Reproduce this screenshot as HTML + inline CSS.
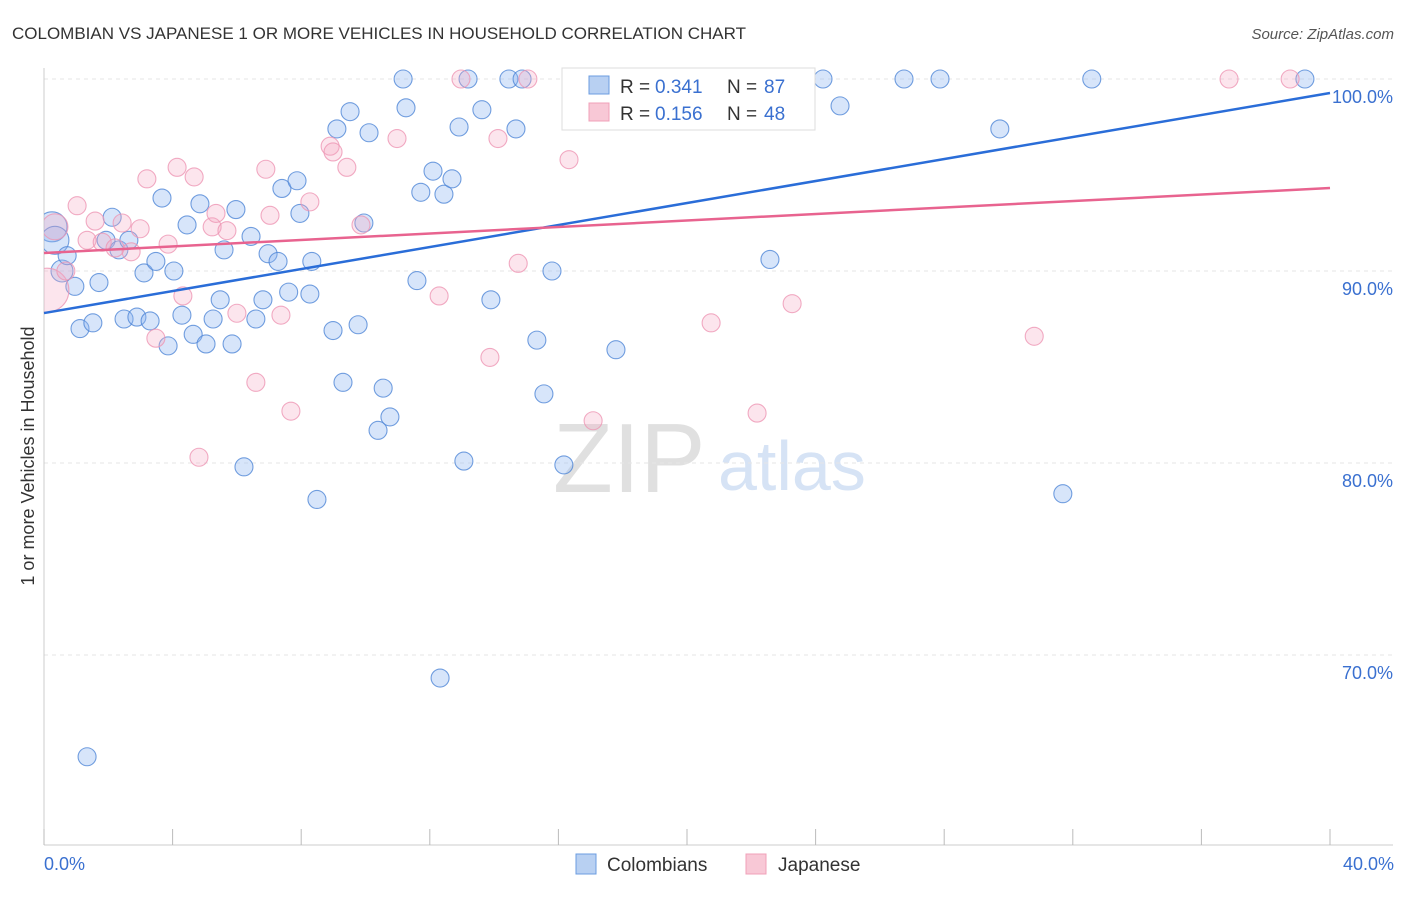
<!DOCTYPE html>
<html><head><meta charset="utf-8"><style>
body{margin:0;background:#fff;font-family:"Liberation Sans",sans-serif}
svg text{font-family:"Liberation Sans",sans-serif}
</style></head><body>
<svg id="c" width="1406" height="892">
<defs><clipPath id="plot"><rect x="44" y="60" width="1360" height="785"/></clipPath></defs>
<text x="12" y="39" font-size="17" fill="#333">COLOMBIAN VS JAPANESE 1 OR MORE VEHICLES IN HOUSEHOLD CORRELATION CHART</text>
<text x="1394" y="39" font-size="15" fill="#555" text-anchor="end" font-style="italic">Source: ZipAtlas.com</text>
<text x="34" y="456" font-size="18" fill="#333" text-anchor="middle" transform="rotate(-90 34 456)">1 or more Vehicles in Household</text>
<text x="553" y="492" font-size="98" fill="#e0e0e0" font-family="Liberation Serif">ZIP</text>
<text x="718" y="490" font-size="70" fill="#d6e3f5">atlas</text>
<g id="grid"></g><g id="pts" clip-path="url(#plot)"></g><g id="lines"></g>
<g>
<rect x="562" y="68" width="253" height="62" fill="#fff" stroke="#ddd"/>
<rect x="589" y="76" width="20" height="18" fill="#b8d0f2" stroke="#6b9ce0"/>
<text x="620" y="93" font-size="19" fill="#333">R = </text><text x="655" y="93" font-size="19" fill="#3a70d0">0.341</text>
<text x="727" y="93" font-size="19" fill="#333">N = </text><text x="764" y="93" font-size="19" fill="#3a70d0">87</text>
<rect x="589" y="103" width="20" height="18" fill="#f8c8d6" stroke="#f0a0b8"/>
<text x="620" y="120" font-size="19" fill="#333">R = </text><text x="655" y="120" font-size="19" fill="#3a70d0">0.156</text>
<text x="727" y="120" font-size="19" fill="#333">N = </text><text x="764" y="120" font-size="19" fill="#3a70d0">48</text>
</g>
<g>
<rect x="576" y="854" width="20" height="20" fill="#b8d0f2" stroke="#6b9ce0"/>
<text x="607" y="871" font-size="19" fill="#333">Colombians</text>
<rect x="746" y="854" width="20" height="20" fill="#f8c8d6" stroke="#f0a0b8"/>
<text x="778" y="871" font-size="19" fill="#333">Japanese</text>
</g>
<text x="44" y="870" font-size="18" fill="#3a70d0">0.0%</text>
<text x="1394" y="870" font-size="18" fill="#3a70d0" text-anchor="end">40.0%</text>
</svg>
<script>
const yTicks=[100,90,80,70];
const yTickLabels=["100.0%","90.0%","80.0%","70.0%"];
const xTicks=[0,4,8,12,16,20,24,28,32,36,40];
const blueX=[0.25,0.34,0.56,0.72,0.96,1.12,1.52,1.71,1.93,2.12,2.33,2.49,2.64,2.89,3.11,3.30,3.48,3.67,3.86,4.04,4.29,4.45,4.64,4.85,5.04,5.26,5.48,5.60,5.85,5.97,6.22,6.44,6.59,6.81,6.97,7.28,7.40,7.61,7.87,7.96,8.27,8.33,8.49,8.99,9.11,9.30,9.52,9.77,9.95,10.11,10.39,10.55,10.76,11.17,11.26,11.60,11.72,12.10,12.32,12.44,12.69,12.91,13.06,13.19,13.62,13.90,14.46,14.68,14.87,15.33,15.55,15.80,16.17,17.79,22.58,24.23,24.76,26.75,27.87,29.73,31.69,32.59,39.22,1.34];
const blueY=[92.3,91.6,90.0,90.8,89.2,87.0,87.3,89.4,91.6,92.8,91.1,87.5,91.6,87.6,89.9,87.4,90.5,93.8,86.1,90.0,87.7,92.4,86.7,93.5,86.2,87.5,88.5,91.1,86.2,93.2,79.8,91.8,87.5,88.5,90.9,90.5,94.3,88.9,94.7,93.0,88.8,90.5,78.1,86.9,97.4,84.2,98.3,87.2,92.5,97.2,81.7,83.9,82.4,100,98.5,89.5,94.1,95.2,68.8,94.0,94.8,97.5,80.1,100,98.4,88.5,100,97.4,100,86.4,83.6,90.0,79.9,85.9,90.6,100,98.6,100,100,97.4,78.4,100,100,64.7];
const blueR=[15,14,11,9];
const pinkX=[0.09,0.34,0.68,1.03,1.34,1.59,1.81,2.21,2.43,2.71,2.99,3.20,3.48,3.86,4.14,4.32,4.67,4.82,5.23,5.35,5.69,6.00,6.59,6.90,7.03,7.37,7.68,8.27,8.90,8.99,9.42,9.86,10.98,12.29,12.97,13.87,14.12,14.75,15.05,16.33,16.52,17.08,20.75,22.18,23.27,30.80,36.86,38.76];
const pinkY=[89.0,92.3,90.0,93.4,91.6,92.6,91.5,91.2,92.5,91.0,92.2,94.8,86.5,91.4,95.4,88.7,94.9,80.3,92.3,93.0,92.1,87.8,84.2,95.3,92.9,87.7,82.7,93.6,96.5,96.2,95.4,92.4,96.9,88.7,100,85.5,96.9,90.4,100,95.8,100,82.2,87.3,82.6,88.3,86.6,100,100];
const pinkR=[22,13,9];
const blueTrend=[87.81,99.27];
const pinkTrend=[90.94,94.32];
const X=v=>44+v/40*1286, Y=v=>79+(100-v)*19.2;
const NS="http://www.w3.org/2000/svg";
function mk(t,a,p){const e=document.createElementNS(NS,t);for(const k in a)e.setAttribute(k,a[k]);p.appendChild(e);return e;}
const g=document.getElementById('grid');
yTicks.forEach((t,i)=>{
 const l=mk('line',{x1:44,x2:1393,y1:Y(t),y2:Y(t),stroke:'#e6e6e6','stroke-dasharray':'4,4'},g);
 
 
 const tx=mk('text',{x:1393,y:Y(t)+24,'font-size':18,fill:'#3a70d0','text-anchor':'end'},g);
 tx.textContent=yTickLabels[i];
 
 
});
const ya=mk('line',{x1:44,x2:44,y1:68,y2:845,stroke:'#ccc'},g);


const xa=mk('line',{x1:44,x2:1393,y1:845,y2:845,stroke:'#ccc'},g);


xTicks.forEach(t=>{
 const l=mk('line',{x1:X(t),x2:X(t),y1:829,y2:845,stroke:'#bbb'},g);
 
 
});
const p=document.getElementById('pts');
blueX.forEach((v,i)=>{
 const c=mk('circle',{cx:X(v),cy:Y(blueY[i]),r:blueR[i]||9,fill:'rgba(140,180,240,0.35)',stroke:'rgba(80,135,215,0.8)','stroke-width':1.1},p);
 
 
});
pinkX.forEach((v,i)=>{
 const c=mk('circle',{cx:X(v),cy:Y(pinkY[i]),r:pinkR[i]||9,fill:'rgba(245,170,195,0.3)',stroke:'rgba(238,150,180,0.8)','stroke-width':1.1},p);
 
 
});
const L=document.getElementById('lines');
const bl=mk('line',{x1:X(0),y1:Y(blueTrend[0]),x2:X(40),y2:Y(blueTrend[1]),stroke:'#2a6dd8','stroke-width':2.5},L);


const pl=mk('line',{x1:X(0),y1:Y(pinkTrend[0]),x2:X(40),y2:Y(pinkTrend[1]),stroke:'#e8638f','stroke-width':2.5},L);


</script>
</body></html>
